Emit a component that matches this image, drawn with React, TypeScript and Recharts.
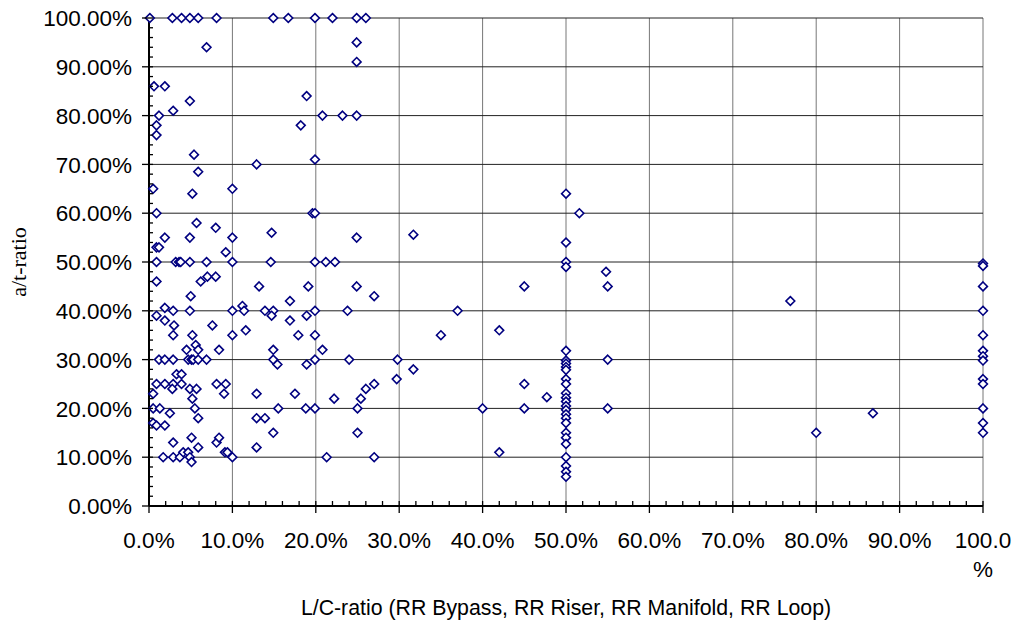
import React from 'react';
import { ScatterChart, Scatter, XAxis, YAxis, CartesianGrid } from 'recharts';

// [L/C-ratio %, a/t-ratio %], grouped by L/C band
const lowRatio: [number, number][] = [
  [0.1, 100], [2.8, 100], [3.9, 100], [4.9, 100], [5.9, 100], [8.1, 100],
  [6.9, 94], [0.6, 86], [1.9, 86], [4.9, 83], [2.9, 81], [1.2, 80], [0.9, 78], [0.9, 76],
  [5.4, 72], [12.9, 70], [5.9, 68.5],
  [0.5, 65], [5.2, 64], [10, 65], [0.9, 60], [5.7, 58], [8, 57],
  [1.9, 55], [4.9, 55], [10, 55], [0.9, 53], [1.2, 53], [9.2, 52],
  [0.9, 50], [3.2, 50], [3.6, 50], [3.8, 50], [4.9, 50], [6.9, 50], [10, 50],
  [0.9, 46], [6.2, 46], [7, 47], [8, 47], [13.2, 45], [5, 43],
  [1.9, 40.6], [2.9, 40], [4.9, 40], [10, 40], [11.2, 41], [11.4, 40],
  [0.9, 39], [1.9, 38], [3, 37], [7.6, 37],
  [2.9, 35], [5.2, 35], [10, 35], [11.6, 36],
  [5.6, 33], [4.5, 32], [5.9, 32], [8.4, 32],
  [1.2, 30], [1.9, 30], [2.9, 30], [4.7, 30], [5.1, 30], [5.3, 30], [5.9, 30], [6.9, 30],
  [3.3, 27], [3.9, 27],
  [0.9, 25], [1.9, 25], [2.9, 25], [3.9, 25], [2.8, 24], [4.9, 24], [5.7, 24],
  [8.1, 25], [9.2, 25], [9, 23], [0.5, 23], [5.2, 22], [5.5, 20], [0.5, 20], [1.3, 20],
  [2.5, 19], [5.9, 18], [0.5, 17], [0.9, 16.5], [1.9, 16.5],
  [5.1, 14], [2.9, 13], [5.9, 12], [8.1, 13], [8.4, 14], [9.1, 11], [9.4, 11],
  [1.7, 10], [2.9, 10], [3.7, 10], [4.1, 11], [4.7, 11], [4.9, 10], [5.1, 9], [10, 10],
  [12.9, 23], [12.9, 18], [12.9, 12],
];

const midRatio: [number, number][] = [
  [14.9, 100], [16.7, 100], [19.9, 100], [22, 100], [24.9, 100], [26, 100],
  [24.9, 95], [24.9, 91], [18.9, 84], [20.8, 80], [23.2, 80], [24.9, 80], [18.2, 78], [19.9, 71],
  [19.6, 60], [19.9, 60], [14.7, 56], [24.9, 55],
  [14.6, 50], [19.9, 50], [21.2, 50], [22.3, 50],
  [19.1, 45], [24.9, 45], [27, 43], [16.9, 42],
  [13.9, 40], [14.9, 40], [14.7, 39], [18.9, 39], [19.9, 40], [23.8, 40], [16.9, 38],
  [17.9, 35], [19.9, 35],
  [14.9, 32], [14.9, 30], [15.4, 29], [18.9, 29], [19.9, 30], [20.8, 32], [24, 30],
  [29.8, 30], [29.7, 26],
  [17.5, 23], [22.2, 22], [25.4, 22], [26, 24], [27, 25],
  [15.5, 20], [18.8, 20], [19.9, 20], [25, 20],
  [13.9, 18], [14.9, 15], [25, 15], [21.3, 10], [27, 10],
];

const highRatio: [number, number][] = [
  [31.7, 55.6], [31.7, 28], [35, 35], [37, 40], [42, 36], [45, 45], [45, 25], [45, 20],
  [40, 20], [42, 11], [47.7, 22.3],
  [50, 64], [51.6, 60], [50, 54], [50, 50], [50, 49], [54.8, 48], [55, 45], [55, 30], [55, 20],
  [50, 31.8], [50, 29.8], [50, 29.2], [50, 28.5], [50, 27.9], [50, 26], [50, 25],
  [50, 23.1], [50, 22.2], [50, 21.4], [50, 20.5], [50, 19.7], [50, 18.8], [50, 18],
  [50, 17], [50, 15], [50, 14], [50, 12.7], [50, 10], [50, 8.2], [50, 7], [50, 6],
  [76.9, 42], [80, 15], [86.8, 19],
];

const fullRatio: [number, number][] = [
  [100, 49.7], [100, 49.2], [100, 45], [100, 40], [100, 35], [100, 31.8], [100, 30.7],
  [100, 29.8], [100, 26], [100, 25], [100, 20], [100, 17], [100, 15],
];

const X_TICKS = Array.from({ length: 51 }, (_, i) => i * 2);
const Y_TICKS = Array.from({ length: 51 }, (_, i) => i * 2);
const MAJORS = [0, 10, 20, 30, 40, 50, 60, 70, 80, 90, 100];

const toRows = (pts: [number, number][]) => pts.map(([lc, at]) => ({ lc, at }));

const FONT = '"Liberation Sans", Arial, sans-serif';
const NAVY = '#000080';

const Diamond = (props: any) => {
  const { cx, cy } = props;
  const r = 4.4;
  return (
    <path
      d={`M${cx},${cy - r}L${cx + r},${cy}L${cx},${cy + r}L${cx - r},${cy}Z`}
      fill="#fff"
      stroke={NAVY}
      strokeWidth={1.6}
    />
  );
};

const XTick = (props: any) => {
  const { x, y, payload } = props;
  const v = payload.value;
  const major = v % 10 === 0;
  return (
    <g>
      <line x1={x} x2={x} y1={y - 5} y2={major ? y + 7 : y} stroke="#000" strokeWidth={1.3} />
      {major && v < 100 && (
        <text x={x} y={y + 42} textAnchor="middle" fontFamily={FONT} fontSize={22.5} fill="#000">
          {v.toFixed(1)}%
        </text>
      )}
      {v === 100 && (
        <text textAnchor="middle" fontFamily={FONT} fontSize={22.5} fill="#000">
          <tspan x={x} y={y + 42}>100.0</tspan>
          <tspan x={x} y={y + 71}>%</tspan>
        </text>
      )}
    </g>
  );
};

const YTick = (props: any) => {
  const { x, y, payload } = props;
  const v = payload.value;
  const major = v % 10 === 0;
  return (
    <g>
      <line x1={major ? x - 7 : x} x2={x + 4} y1={y} y2={y} stroke="#000" strokeWidth={1.3} />
      {major && (
        <text x={x - 17} y={y} dy="0.36em" textAnchor="end" fontFamily={FONT} fontSize={22.5} fill="#000">
          {v.toFixed(2)}%
        </text>
      )}
    </g>
  );
};

const XTitle = (props: any) => {
  const { viewBox } = props;
  return (
    <text
      x={viewBox.x + viewBox.width / 2}
      y={viewBox.y + 109}
      textAnchor="middle"
      fontFamily={FONT}
      fontSize={21.3}
      fill="#000"
    >
      L/C-ratio (RR Bypass, RR Riser, RR Manifold, RR Loop)
    </text>
  );
};

const YTitle = (props: any) => {
  const { viewBox } = props;
  const cx = viewBox.x + 18;
  const cy = viewBox.y + viewBox.height / 2;
  return (
    <text
      x={cx}
      y={cy}
      dy="0.35em"
      textAnchor="middle"
      transform={`rotate(-90 ${cx} ${cy})`}
      fontFamily='"Liberation Serif", "Times New Roman", serif'
      fontSize={22}
      fill="#000"
    >
      a/t-ratio
    </text>
  );
};

export default function App() {
  return (
    <div style={{ position: 'absolute', left: 0, top: 0, width: 1016, height: 622, background: '#fff' }}>
      <ScatterChart width={1016} height={622} margin={{ top: 18, right: 33, bottom: 0, left: 0 }}>
        <CartesianGrid horizontal={false} verticalValues={MAJORS} stroke="#777" />
        <CartesianGrid vertical={false} horizontalValues={MAJORS} stroke="#222" />
        <XAxis
          type="number"
          dataKey="lc"
          domain={[0, 100]}
          ticks={X_TICKS}
          interval={0}
          height={116}
          tickSize={0}
          tickMargin={0}
          tickLine={false}
          axisLine={{ stroke: '#000', strokeWidth: 2 }}
          tick={<XTick />}
          label={<XTitle />}
        />
        <YAxis
          type="number"
          dataKey="at"
          domain={[0, 100]}
          ticks={Y_TICKS}
          interval={0}
          width={149}
          tickSize={0}
          tickMargin={0}
          tickLine={false}
          axisLine={{ stroke: '#000', strokeWidth: 2 }}
          tick={<YTick />}
          label={<YTitle />}
        />
        <Scatter data={toRows(lowRatio)} shape={<Diamond />} isAnimationActive={false} />
        <Scatter data={toRows(midRatio)} shape={<Diamond />} isAnimationActive={false} />
        <Scatter data={toRows(highRatio)} shape={<Diamond />} isAnimationActive={false} />
        <Scatter data={toRows(fullRatio)} shape={<Diamond />} isAnimationActive={false} />
      </ScatterChart>
    </div>
  );
}
